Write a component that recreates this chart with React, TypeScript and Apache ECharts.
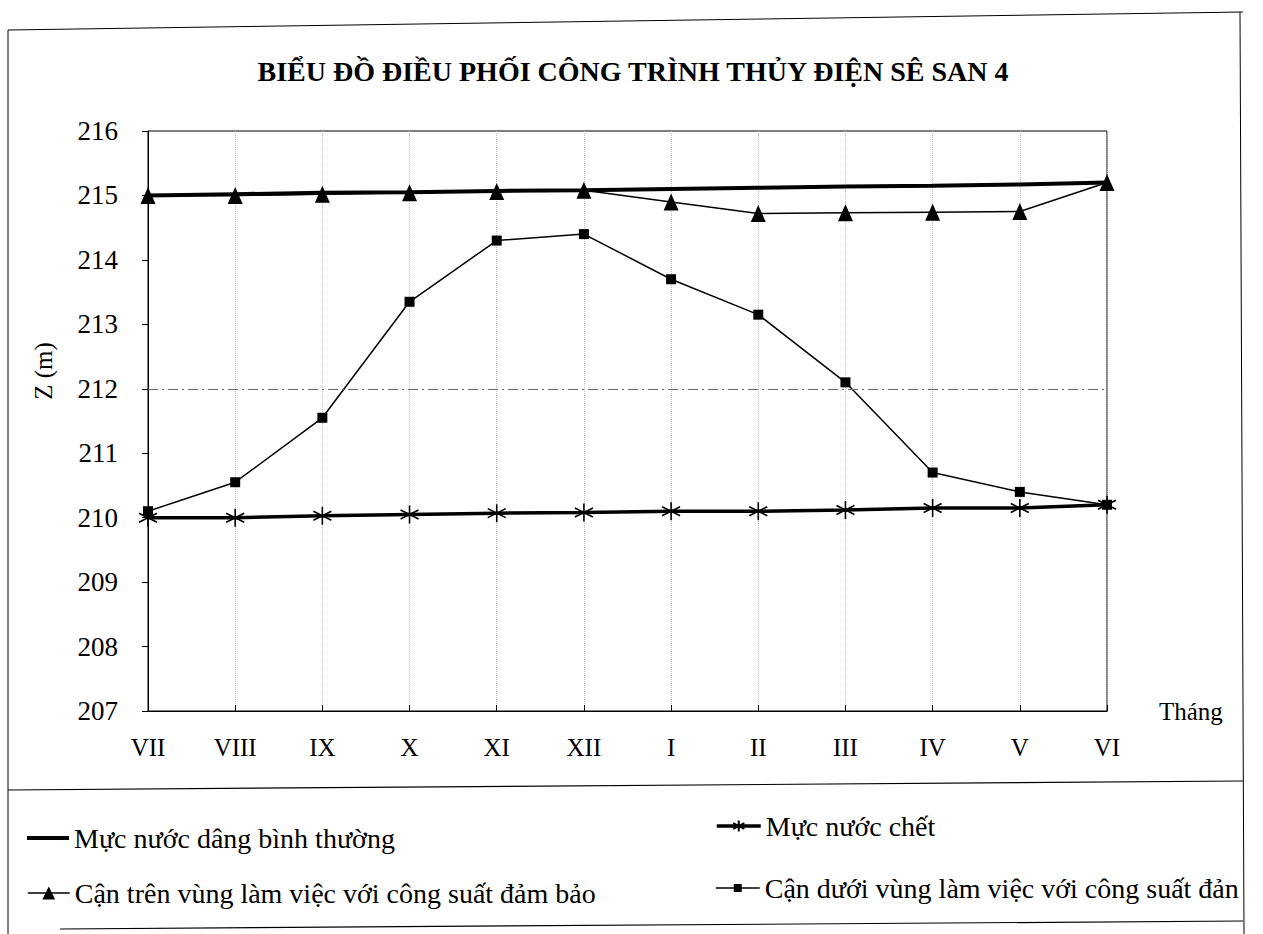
import React, { useEffect, useRef } from "react";
import * as echarts from "echarts";

const months = ["VII", "VIII", "IX", "X", "XI", "XII", "I", "II", "III", "IV", "V", "VI"];
const yTicks = [207, 208, 209, 210, 211, 212, 213, 214, 215, 216];
const normalLevel = [215.0, 215.02, 215.04, 215.05, 215.07, 215.08, 215.1, 215.12, 215.14, 215.15, 215.17, 215.2];
const deadLevel = [210.0, 210.0, 210.03, 210.05, 210.07, 210.08, 210.1, 210.1, 210.12, 210.15, 210.15, 210.2];
const upperBound = [215.0, 215.0, 215.02, 215.04, 215.06, 215.08, 214.9, 214.72, 214.73, 214.74, 214.75, 215.2];
const lowerBound = [210.1, 210.55, 211.55, 213.35, 214.3, 214.4, 213.7, 213.15, 212.1, 210.7, 210.4, 210.2];

const seriesNames = [
  "Mực nước dâng bình thường",
  "Mực nước chết",
  "Cận trên vùng làm việc với công suất đảm bảo",
  "Cận dưới vùng làm việc với công suất đảm bảo",
];
// the last legend label is cut off by the frame in the original
const clippedLegendLabel = "Cận dưới vùng làm việc với công suất đản";

const FONT = "'Liberation Serif', 'Times New Roman', serif";
const asterisk = "path://M0,-10L0,10M-8.7,-5L8.7,5M-8.7,5L8.7,-5";

export default function App() {
  const ref = useRef<HTMLDivElement>(null);
  useEffect(() => {
    if (!ref.current) return;
    const chart = echarts.init(ref.current, null, { renderer: "svg" });
    const legendText = { color: "#000", fontFamily: FONT, fontSize: 28 };
    chart.setOption({
      animation: false,
      backgroundColor: "#fff",
      title: {
        text: "BIỂU ĐỒ ĐIỀU PHỐI CÔNG TRÌNH THỦY ĐIỆN SÊ SAN 4",
        left: 628,
        textAlign: "center",
        top: 52,
        textStyle: { fontFamily: FONT, fontWeight: "bold", fontSize: 28, color: "#000" },
      },
      grid: {
        left: 148,
        right: 156,
        top: 131,
        bottom: 223,
        show: true,
        borderColor: "#000",
        borderWidth: 1,
        backgroundColor: "transparent",
      },
      xAxis: {
        type: "category",
        data: months,
        boundaryGap: false,
        name: "Tháng",
        nameLocation: "end",
        nameGap: 52,
        nameTextStyle: { fontFamily: FONT, fontSize: 25, color: "#000", verticalAlign: "middle" },
        axisLine: { lineStyle: { color: "#000", width: 1 } },
        axisTick: { show: true, alignWithLabel: true, length: 6, inside: true, lineStyle: { color: "#000" } },
        axisLabel: { fontFamily: FONT, fontSize: 25, color: "#000", margin: 24 },
        splitLine: { show: true, lineStyle: { color: "#bbb", type: "dotted", width: 1 } },
      },
      yAxis: {
        type: "value",
        min: yTicks[0],
        max: yTicks[yTicks.length - 1],
        interval: 1,
        name: "Z (m)",
        nameLocation: "middle",
        nameGap: 92,
        nameRotate: 90,
        nameTextStyle: { fontFamily: FONT, fontSize: 25, color: "#000", padding: [0, 0, 0, 100] },
        axisLine: { show: true, lineStyle: { color: "#000", width: 1 } },
        axisTick: { show: true, length: 6, lineStyle: { color: "#000" } },
        axisLabel: { fontFamily: FONT, fontSize: 27, color: "#000", margin: 30 },
        splitLine: { show: false },
      },
      legend: [
        {
          data: [{ name: seriesNames[0], icon: "rect" }],
          left: 22, top: 819, itemWidth: 42, itemHeight: 4,
          textStyle: legendText,
        },
        {
          data: [seriesNames[1]],
          left: 710, top: 807, itemWidth: 44, itemHeight: 14,
          lineStyle: { width: 3.5 },
          textStyle: legendText,
        },
        {
          data: [seriesNames[2]],
          left: 22, top: 874, itemWidth: 42, itemHeight: 16,
          lineStyle: { width: 1.5 },
          textStyle: legendText,
        },
        {
          data: [seriesNames[3]],
          left: 710, top: 869, itemWidth: 44, itemHeight: 10,
          lineStyle: { width: 1.5 },
          formatter: () => clippedLegendLabel,
          textStyle: legendText,
        },
      ],
      graphic: [
        { type: "line", shape: { x1: 8, y1: 30, x2: 1243, y2: 12 }, style: { stroke: "#000", lineWidth: 1 } },
        { type: "line", shape: { x1: 8, y1: 30, x2: 8, y2: 934 }, style: { stroke: "#000", lineWidth: 1 } },
        { type: "line", shape: { x1: 1240, y1: 12, x2: 1244, y2: 934 }, style: { stroke: "#000", lineWidth: 1 } },
        { type: "line", shape: { x1: 8, y1: 790, x2: 1243, y2: 781 }, style: { stroke: "#000", lineWidth: 1.2 } },
        { type: "line", shape: { x1: 60, y1: 929, x2: 1243, y2: 921 }, style: { stroke: "#000", lineWidth: 1.2 } },
      ],
      series: [
        {
          name: seriesNames[0],
          type: "line",
          data: normalLevel,
          symbol: "none",
          lineStyle: { color: "#000", width: 4 },
          itemStyle: { color: "#000" },
          z: 3,
        },
        {
          name: seriesNames[1],
          type: "line",
          data: deadLevel,
          symbol: asterisk,
          symbolSize: 18,
          showAllSymbol: true,
          lineStyle: { color: "#000", width: 3.5 },
          itemStyle: { color: "#000", borderColor: "#000", borderWidth: 1.6 },
          z: 3,
        },
        {
          name: seriesNames[2],
          type: "line",
          data: upperBound,
          symbol: "triangle",
          symbolSize: [15, 17],
          showAllSymbol: true,
          lineStyle: { color: "#000", width: 1.5 },
          itemStyle: { color: "#000" },
          z: 4,
        },
        {
          name: seriesNames[3],
          type: "line",
          data: lowerBound,
          symbol: "rect",
          symbolSize: 10,
          showAllSymbol: true,
          lineStyle: { color: "#000", width: 1.5 },
          itemStyle: { color: "#000" },
          markLine: {
            silent: true,
            symbol: "none",
            label: { show: false },
            lineStyle: { color: "#666", type: [10, 4, 2, 4], width: 1 },
            data: [{ yAxis: 212 }],
          },
          z: 4,
        },
      ],
    });
    return () => chart.dispose();
  }, []);
  return <div ref={ref} style={{ position: "absolute", left: 0, top: 0, width: 1263, height: 934 }} />;
}
